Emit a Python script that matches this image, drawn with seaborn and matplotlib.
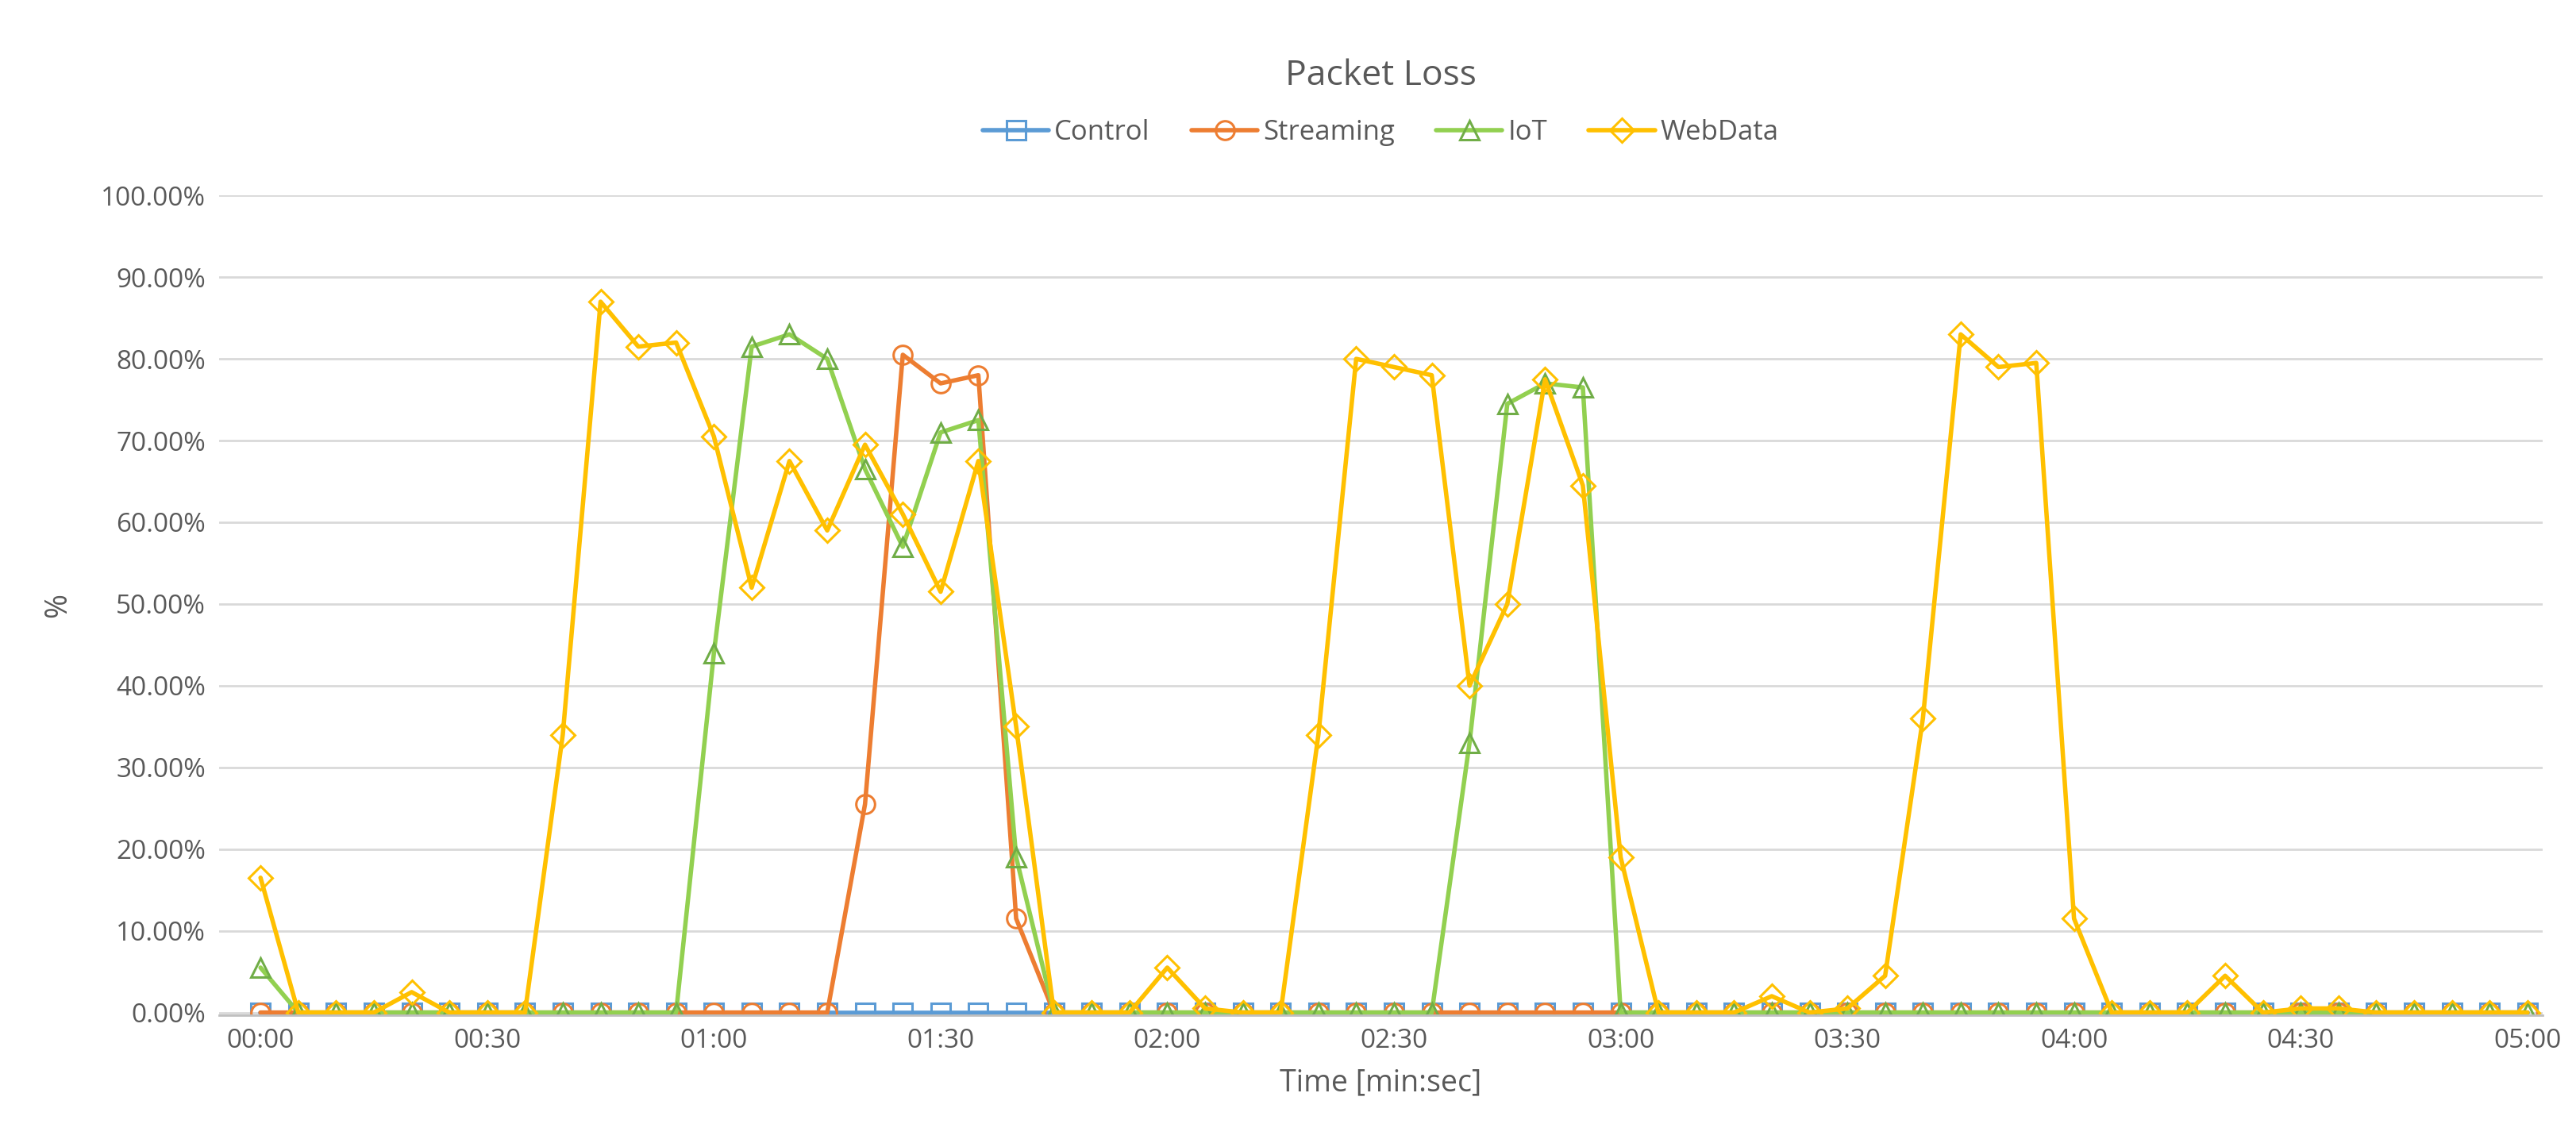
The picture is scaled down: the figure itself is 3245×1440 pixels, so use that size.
import matplotlib
matplotlib.use("Agg")
import matplotlib.pyplot as plt
import seaborn as sns
import numpy as np
import pandas as pd
from matplotlib.ticker import FuncFormatter

# time in seconds, one sample every 5 s
seconds = list(range(0, 305, 5))

control = [0] * 61

streaming = [0] * 61
streaming[16:21] = [25.5, 80.5, 77, 78, 11.5]

iot = [0] * 61
iot[0] = 5.5
iot[12:21] = [44, 81.5, 83, 80, 66.5, 57, 71, 72.5, 19]
iot[32:36] = [33, 74.5, 77, 76.5]

webdata = [0] * 61
webdata[0] = 16.5
webdata[4] = 2.5
webdata[8:21] = [34, 87, 81.5, 82, 70.5, 52, 67.5, 59, 69.5, 61, 51.5, 67.5, 35]
webdata[24:26] = [5.5, 0.5]
webdata[28:37] = [34, 80, 79, 78, 40, 50, 77.5, 64.5, 19]
webdata[40] = 2
webdata[42:49] = [0.5, 4.5, 36, 83, 79, 79.5, 11.5]
webdata[52] = 4.5
webdata[54:56] = [0.5, 0.5]

series = {"Control": control, "Streaming": streaming, "IoT": iot, "WebData": webdata}
colors = {"Control": "#5B9BD5", "Streaming": "#ED7D31", "IoT": "#92D050", "WebData": "#FFC000"}
edge = {"Control": "#5B9BD5", "Streaming": "#ED7D31", "IoT": "#70AD47", "WebData": "#FFC000"}
markers = {"Control": "s", "Streaming": "o", "IoT": "^", "WebData": "D"}

sns.set_style("white")
plt.rcParams["font.family"] = ["Open Sans", "DejaVu Sans"]

fig = plt.figure(figsize=(32.45, 14.4), dpi=100)
ax = fig.add_axes([0.085, 0.112, 0.902, 0.717])

for name, vals in series.items():
    df = pd.DataFrame({"t": seconds, "v": np.array(vals) / 100})
    sns.lineplot(data=df, x="t", y="v", ax=ax, color=colors[name], linewidth=4,
                 marker=markers[name], markersize=17 if name != "WebData" else 15,
                 markerfacecolor="none", markeredgecolor=edge[name],
                 markeredgewidth=2.2, label=name)

ax.set_xlim(-5.5, 302)
ax.set_ylim(-0.003, 1.0)
ax.set_yticks(np.arange(0, 1.01, 0.1))
ax.yaxis.set_major_formatter(FuncFormatter(lambda v, p: f"{v*100:.2f}%"))
ax.set_xticks(range(0, 301, 30))
ax.set_xticklabels([f"{s//60:02d}:{s%60:02d}" for s in range(0, 301, 30)])
ax.grid(axis="y", color="#D9D9D9", linewidth=2)
for s in ["top", "right", "left"]:
    ax.spines[s].set_visible(False)
ax.spines["bottom"].set_color("#BFBFBF")
ax.spines["bottom"].set_linewidth(2)
ax.tick_params(labelsize=24, colors="#595959", length=0, pad=12)
ax.set_xlabel("Time [min:sec]", fontsize=27, color="#595959", labelpad=12)
ax.set_ylabel("%", fontsize=27, color="#595959", labelpad=25)
ax.set_title("Packet Loss", fontsize=32, color="#595959", pad=100)
leg = ax.legend(loc="lower center", bbox_to_anchor=(0.5, 1.03), ncol=4, frameon=False,
                fontsize=25, handlelength=2.4, handletextpad=0.2, columnspacing=1.5)
for t in leg.get_texts():
    t.set_color("#595959")

fig.savefig("out.png", dpi=100)
